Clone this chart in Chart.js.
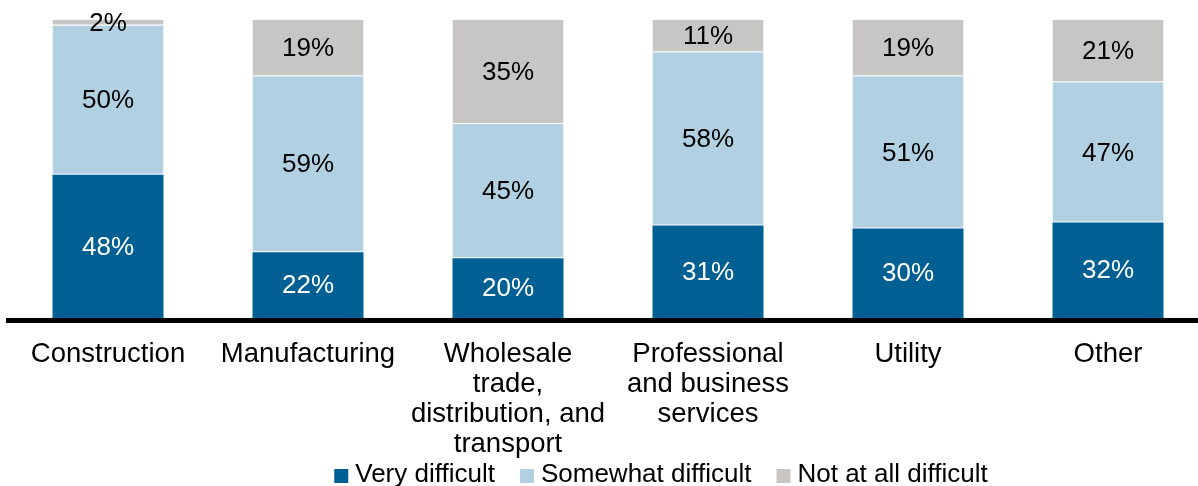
<!DOCTYPE html>
<html>
<head>
<meta charset="utf-8">
<script src="https://cdn.jsdelivr.net/npm/chart.js@4/dist/chart.umd.min.js"></script>
<style>
html, body { margin:0; padding:0; background:#fff; overflow:hidden; }
#wrap { width:1216px; height:486px; position:relative; }
</style>
</head>
<body>
<div id="wrap"><canvas id="sectorChart"></canvas></div>
<script>
const sectors = [
  "Construction",
  "Manufacturing",
  ["Wholesale", "trade,", "distribution, and", "transport"],
  ["Professional", "and business", "services"],
  "Utility",
  "Other"
]
const veryDifficult = [48, 22, 20, 31, 30, 32]
const somewhatDifficult = [50, 59, 45, 58, 51, 47]
const notDifficult = [2, 19, 35, 11, 19, 21]

const FONT = "'Liberation Sans', Arial, sans-serif"

// values written in the middle of each segment
const segmentLabels = {
  id: "segmentLabels",
  afterDatasetsDraw(chart){
    const ctx = chart.ctx
    ctx.save()
    ctx.font = "26px " + FONT
    ctx.textAlign = "center"
    ctx.textBaseline = "middle"
    chart.data.datasets.forEach((ds, i) => {
      const meta = chart.getDatasetMeta(i)
      meta.data.forEach((bar, j) => {
        const p = bar.getProps(["x", "y", "base"], true)
        ctx.fillStyle = i === 0 ? "#ffffff" : "#000000"
        ctx.fillText(ds.data[j] + "%", p.x, (p.y + p.base) / 2 + 1)
      })
    })
    ctx.restore()
  }
}

// legend row along the bottom edge
const bottomLegend = {
  id: "bottomLegend",
  afterDraw(chart){
    const ctx = chart.ctx
    const box = 14, gap = 7, spacing = 25, centerX = 661, baseline = 482
    ctx.save()
    ctx.font = "26px " + FONT
    ctx.textBaseline = "alphabetic"
    ctx.textAlign = "left"
    const items = chart.data.datasets.map(ds => ({
      text: ds.label,
      color: ds.backgroundColor,
      w: ctx.measureText(ds.label).width
    }))
    let total = 0
    items.forEach((it, k) => { total += box + gap + it.w + (k > 0 ? spacing : 0) })
    let x = centerX - total / 2
    items.forEach(it => {
      ctx.fillStyle = it.color
      ctx.fillRect(x, baseline - 13, box, box)
      ctx.fillStyle = "#000000"
      ctx.fillText(it.text, x + box + gap, baseline)
      x += box + gap + it.w + spacing
    })
    ctx.restore()
  }
}

new Chart(document.getElementById("sectorChart"), {
  type: "bar",
  data: {
    labels: sectors,
    datasets: [
      {
        label: "Very difficult",
        data: veryDifficult,
        backgroundColor: "#005F93",
        borderWidth: 0
      },
      {
        label: "Somewhat difficult",
        data: somewhatDifficult,
        backgroundColor: "#B1D0E2",
        borderColor: "rgba(255,255,255,0.7)",
        borderWidth: {top: 0, bottom: 1, left: 0, right: 0},
        borderSkipped: false
      },
      {
        label: "Not at all difficult",
        data: notDifficult,
        backgroundColor: "#C8C6C5",
        borderColor: "rgba(255,255,255,0.7)",
        borderWidth: {top: 0, bottom: 1, left: 0, right: 0},
        borderSkipped: false
      }
    ]
  },
  options: {
    responsive: true,
    maintainAspectRatio: false,
    animation: false,
    events: [],
    layout: { padding: { left: 8, right: 8, top: 19.5, bottom: 0 } },
    datasets: {
      bar: { categoryPercentage: 1, barPercentage: 0.555 }
    },
    plugins: {
      legend: { display: false },
      tooltip: { enabled: false }
    },
    scales: {
      x: {
        stacked: true,
        grid: { display: false },
        border: { display: true, color: "#000000", width: 5, z: 1 },
        ticks: {
          color: "#000000",
          padding: 11.5,
          maxRotation: 0,
          autoSkip: false,
          font: { family: FONT, size: 27.5, lineHeight: 1.08 }
        },
        afterFit(scale){ scale.height = 165.5 }
      },
      y: {
        stacked: true,
        display: false,
        min: -0.83,
        max: 100
      }
    }
  },
  plugins: [segmentLabels, bottomLegend]
})
</script>
</body>
</html>
